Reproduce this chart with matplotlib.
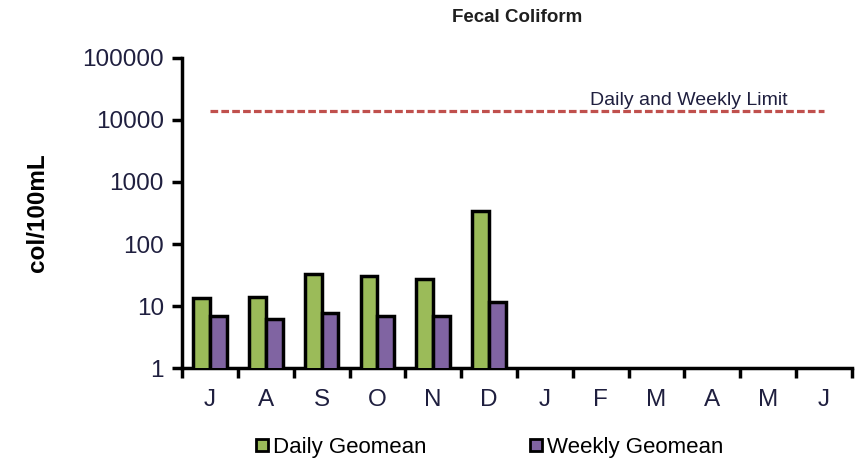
import matplotlib
matplotlib.use("Agg")
import matplotlib.pyplot as plt
from matplotlib.lines import Line2D
import numpy as np

months = ["J", "A", "S", "O", "N", "D", "J", "F", "M", "A", "M", "J"]
daily_geomean = [13.5, 14, 33, 31, 27.5, 340]
weekly_geomean = [6.9, 6.2, 7.8, 6.9, 6.9, 11.5]
limit_value = 14000
yticks = [1, 10, 100, 1000, 10000, 100000]
ytick_labels = ["1", "10", "100", "1000", "10000", "100000"]

plt.rcParams['font.family'] = ['Liberation Sans', 'DejaVu Sans']

fig = plt.figure(figsize=(8.57, 4.61), dpi=100)
ax = fig.add_axes([182/857, 1-368/461, (852-182)/857, (368-58)/461])

green = "#9BBB59"
purple = "#8064A2"
text_color = "#1F1F3F"
w = 0.3
x = np.arange(len(daily_geomean))
ax.bar(x - w/2, daily_geomean, width=w, color=green, edgecolor="black", linewidth=2.5, zorder=3)
ax.bar(x + w/2, weekly_geomean, width=w, color=purple, edgecolor="black", linewidth=2.5, zorder=3)

lx = np.arange(len(months))
ax.plot(lx, [limit_value]*len(months), color="#C0504D", linestyle=(0, (2.4, 1.0)), linewidth=2.3, zorder=2)
ax.text(6.8, limit_value*1.06, "Daily and Weekly Limit", fontsize=14, color=text_color, ha="left", va="bottom")

ax.set_yscale("log")
ax.set_ylim(1, 100000)
ax.set_xlim(-0.5, len(months)-0.5)
ax.set_yticks(yticks)
ax.set_yticklabels(ytick_labels, fontsize=17.5, color=text_color)
ax.yaxis.set_minor_locator(matplotlib.ticker.NullLocator())

ax.set_xticks(np.arange(len(months)+1) - 0.5)
ax.set_xticklabels([])
ax.set_xticks(np.arange(len(months)), minor=True)
ax.set_xticklabels(months, minor=True, fontsize=17.5, color=text_color)
ax.tick_params(axis="x", which="minor", length=0, pad=15)
ax.tick_params(axis="x", which="major", length=7, width=2.5, direction="out")
ax.tick_params(axis="y", length=7, width=2.5, direction="out", pad=6)

for s in ["top", "right"]:
    ax.spines[s].set_visible(False)
for s in ["left", "bottom"]:
    ax.spines[s].set_linewidth(2.5)

ax.set_ylabel("col/100mL", fontsize=17.5, fontweight="bold", labelpad=24)
fig.text(517/857, 1-18/461, "Fecal Coliform", fontsize=13.5, fontweight="bold", ha="center", va="center", color="#1F1F1F")

handles = [Line2D([], [], marker="s", linestyle="none", markersize=9, markerfacecolor=green, markeredgecolor="black", markeredgewidth=2),
           Line2D([], [], marker="s", linestyle="none", markersize=9, markerfacecolor=purple, markeredgecolor="black", markeredgewidth=2)]
fig.legend(handles, ["Daily Geomean", "Weekly Geomean"], loc="center", bbox_to_anchor=(487/857, 1-447/461),
           ncol=2, frameon=False, fontsize=16, handletextpad=0.0, columnspacing=4.4, handlelength=1.0)

fig.savefig("out.png", dpi=100)
